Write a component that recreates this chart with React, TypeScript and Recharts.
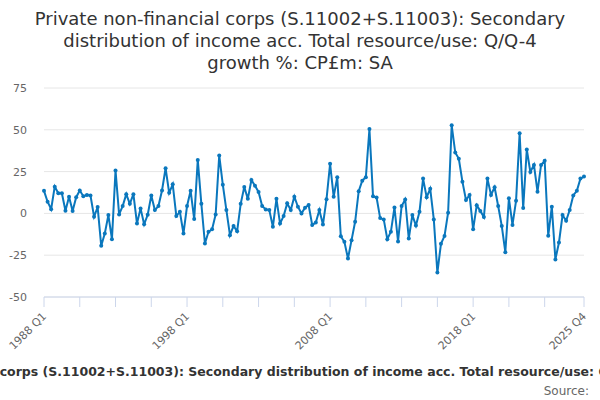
import React from 'react';
import { LineChart, Line, XAxis, YAxis, CartesianGrid } from 'recharts';

// Q/Q-4 growth %, quarterly, 1988 Q1 .. 2025 Q4
const firstYear = 1988;
const lastYear = 2025;

const growth = [
  13.5, 7, 2.5, 16, 12, 12, 1.6, 10, 1.4, 9.7,
  13.7, 10.3, 11, 10.7, -2, 3.8, -19.4, -12, -1, -15.4,
  25.7, -0.6, 4.4, 11.5, 5.7, 11.5, -6, 3, -6.5, -0.8,
  10.7, 2, 4.4, 13.7, 27, 12.3, 17.4, -1.6, 1, -12,
  4.4, 13.5, -3.4, 32, 5.7, -18, -11, -9.5, -0.6, 34.7,
  17.2, 2, -13, -7.5, -10.7, 5.7, 15.8, 8.7, 20, 16.6,
  12.8, 4.4, 2.4, 2, -8, 8.7, -6, -1.6, 6, 2,
  10, 4, 0, 3.4, 5, -7, -5.5, 2, -6.7, 8.5,
  29.7, 10, 21.6, -13.7, -17, -27, -16, -5, 13.3, 19.6,
  21.6, 50.5, 10.3, 9.5, -2.8, -3.6, -15.4, -11, 3.6, -16.8,
  4.4, 8.3, -15, -1, -7.3, 1, 20.8, 9.7, 14.7, -3.6,
  -35.4, -18.2, -13.5, 0.4, 52.7, 36.4, 32.7, 19, 8, 11,
  -9.5, 4.8, 1.5, -2.2, 20.8, 11, 15.6, 4.4, -7.5, -23.2,
  9, -6.9, 7.5, 47.9, 3.2, 38.2, 24.8, 29, 13, 29,
  31.5, -13.3, 4, -27.5, -17.4, -1, -4.4, 2, 10.7, 13.5,
  20.8, 22,
];

const yTicks = [-50, -25, 0, 25, 50, 75];
const xTickLabels = ['1988 Q1', '1998 Q1', '2008 Q1', '2018 Q1', '2025 Q4'];

const quarters: string[] = [];
for (let y = firstYear; y <= lastYear; y++) {
  for (let q = 1; q <= 4; q++) quarters.push(`${y} Q${q}`);
}

const data = quarters.map((quarter, i) => ({ i, quarter, value: growth[i] }));

// tick every 10 quarters, plus the last one
const xTicks = [...quarters.map((_, i) => i).filter((i) => i % 10 === 0 && i < 150), quarters.length - 1];

const titleText =
  'Private non-financial corps (S.11002+S.11003): Secondary distribution of income acc. Total resource/use: Q/Q-4 growth %: CP£m: SA';

const FONT = '"DejaVu Sans", sans-serif';
const BLUE = '#0a77bd';

const XTick = (props: any) => {
  const { x, payload } = props;
  const label = quarters[payload.value];
  if (!xTickLabels.includes(label)) return null;
  const ax = x + 3;
  const ay = 317;
  return (
    <text
      x={ax}
      y={ay}
      transform={`rotate(-45 ${ax} ${ay})`}
      textAnchor="end"
      fill="#666"
      fontSize={11}
      fontFamily={FONT}
    >
      {label}
    </text>
  );
};

export default function App() {
  return (
    <div
      style={{
        position: 'absolute',
        left: 0,
        top: 0,
        width: 600,
        height: 400,
        overflow: 'hidden',
        background: '#fff',
        fontFamily: FONT,
      }}
    >
      <div
        style={{
          position: 'absolute',
          top: 8,
          left: 0,
          width: 600,
          textAlign: 'center',
          fontSize: 18,
          lineHeight: '22px',
          color: '#333',
        }}
      >
        Private non-financial corps (S.11002+S.11003): Secondary
        <br />
        distribution of income acc. Total resource/use: Q/Q-4
        <br />
        growth %: CP£m: SA
      </div>
      <LineChart
        width={600}
        height={400}
        data={data}
        margin={{ top: 88, right: 16, bottom: 43, left: 0 }}
      >
        <CartesianGrid vertical={false} stroke="#e6e6e6" />
        <XAxis
          dataKey="i"
          type="number"
          domain={[0, quarters.length - 1]}
          ticks={xTicks}
          interval={0}
          height={60}
          stroke="#ccd6eb"
          tickSize={10}
          tick={<XTick />}
        />
        <YAxis
          domain={[-50, 75]}
          ticks={yTicks}
          width={44}
          axisLine={false}
          tickLine={false}
          tickSize={0}
          tickMargin={17}
          tick={{ fill: '#666', fontSize: 11, fontFamily: FONT }}
        />
        <Line
          type="linear"
          dataKey="value"
          stroke={BLUE}
          strokeWidth={2}
          dot={{ r: 2, fill: BLUE, stroke: BLUE, strokeWidth: 0 }}
          isAnimationActive={false}
        />
      </LineChart>
      <div
        style={{
          position: 'absolute',
          top: 365,
          left: 318 - 1000,
          width: 2000,
          textAlign: 'center',
          whiteSpace: 'nowrap',
          fontSize: 12.5,
          fontWeight: 'bold',
          color: '#333',
          lineHeight: '14px',
        }}
      >
        {titleText}
      </div>
      <div
        style={{
          position: 'absolute',
          top: 384,
          right: 11,
          fontSize: 12,
          color: '#666',
          lineHeight: '14px',
        }}
      >
        Source:
      </div>
    </div>
  );
}
